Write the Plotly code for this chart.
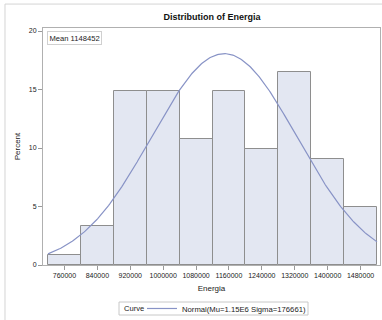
import numpy as np
import plotly.graph_objects as go

# Histogram of Energia: bin midpoints and observation counts per bin
bin_mid = [760000, 840000, 920000, 1000000, 1080000, 1160000, 1240000, 1320000, 1400000, 1480000]
counts = [1, 4, 18, 18, 13, 18, 12, 20, 11, 6]
bin_width = 80000

# Fitted normal parameters
mu = 1148452
sigma = 176661

tick_vals = bin_mid
tick_text = [str(v) for v in bin_mid]

n = sum(counts)
percent = [c / n * 100 for c in counts]

# Normal density scaled to percent per bin
xc = np.linspace(bin_mid[0] - bin_width / 2, bin_mid[-1] + bin_width / 2, 300)
yc = 100 * bin_width * np.exp(-0.5 * ((xc - mu) / sigma) ** 2) / (sigma * np.sqrt(2 * np.pi))

FONT = "Liberation Sans Narrow, Liberation Sans, Arial, sans-serif"

fig = go.Figure()
fig.add_trace(go.Bar(
    x=bin_mid, y=percent, width=bin_width,
    marker=dict(color="#E3E7F2", line=dict(color="#8E8E8E", width=1)),
    showlegend=False, hoverinfo="skip",
))
fig.add_trace(go.Scatter(
    x=xc, y=yc, mode="lines",
    line=dict(color="#8893C6", width=1.2),
    name="Normal(Mu=1.15E6 Sigma=176661)",
))

# legend frame (paper coordinates)
leg_y = -0.1835

fig.update_layout(
    width=382, height=320,
    margin=dict(l=43, r=2, t=28, b=55, autoexpand=False),
    paper_bgcolor="white", plot_bgcolor="white",
    font=dict(family=FONT, size=7, color="#222"),
    title=dict(text="<b>Distribution of Energia</b>", x=0.555, xanchor="center",
               y=1 - 17 / 320, yanchor="middle",
               font=dict(family="Liberation Sans, Arial, sans-serif", size=9, color="#111")),
    bargap=0,
    xaxis=dict(
        range=[707850, 1527300], tickmode="array", tickvals=tick_vals, ticktext=tick_text,
        ticks="outside", ticklen=4, tickcolor="#999", showgrid=False, zeroline=False,
        showline=True, linecolor="#B0B0B0", linewidth=1, mirror=True,
        title=dict(text="Energia", font=dict(size=8), standoff=6),
    ),
    yaxis=dict(
        range=[0, 20.26], tickvals=[0, 5, 10, 15, 20],
        ticks="outside", ticklen=4, tickcolor="#999", showgrid=False, zeroline=False,
        showline=True, linecolor="#B0B0B0", linewidth=1, mirror=True,
        title=dict(text="Percent", font=dict(size=8), standoff=7),
    ),
    legend=dict(
        orientation="h", x=(142 - 43) / 337, xanchor="left", y=leg_y, yanchor="middle",
        borderwidth=0, bgcolor="rgba(0,0,0,0)", font=dict(size=7.7),
        itemwidth=30,
    ),
    annotations=[
        dict(text="Mean 1148452", xref="paper", yref="paper", x=0.012, y=0.987,
             xanchor="left", yanchor="top", showarrow=False, font=dict(size=7.6),
             bordercolor="#D0D0D0", borderwidth=1, borderpad=1.5, bgcolor="white"),
        dict(text="Curve", xref="paper", yref="paper", x=(122 - 43) / 337, y=leg_y,
             xanchor="left", yanchor="middle", showarrow=False, font=dict(size=7.6)),
    ],
    shapes=[
        dict(type="rect", xref="paper", yref="paper", x0=-0.1128, x1=1.2, y0=-0.4, y1=1.101,
             line=dict(color="#D4D4D4", width=1), layer="below"),
        dict(type="rect", xref="paper", yref="paper",
             x0=(119 - 43) / 337, x1=(308 - 43) / 337,
             y0=(265 - 315) / 237, y1=(265 - 302) / 237,
             line=dict(color="#C8C8C8", width=1), layer="below"),
    ],
)

fig.write_html("out.html")
